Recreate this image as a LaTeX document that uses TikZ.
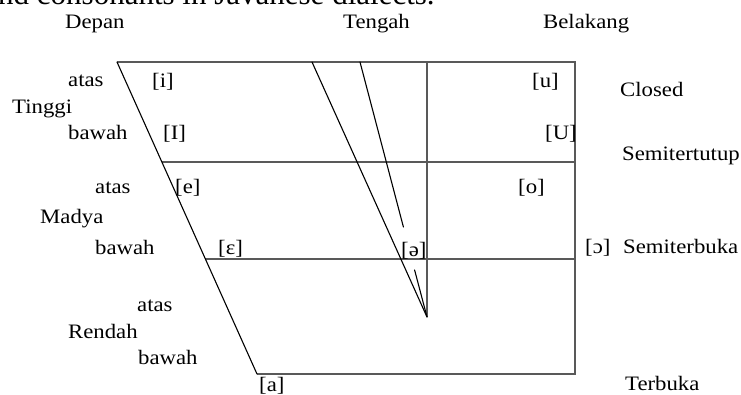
\documentclass[tikz,border=0pt]{standalone}
\usepackage{fontspec}
\usepackage{graphicx}
\setmainfont{Liberation Serif}
\newcommand{\wt}[1]{\scalebox{1.11}[1]{#1}}
\tikzset{
  lab/.style={inner sep=0pt, anchor=base west, font=\fontsize{20.5}{24}\selectfont},
  boxline/.style={draw=black!65, line width=1.6pt},
  slant/.style={draw=black, line width=1.1pt, line cap=round}
}
\begin{document}
\begin{tikzpicture}[x=1pt,y=-1pt]
\useasboundingbox (0,0) rectangle (741,394);
\clip (0,0) rectangle (741,394);
% caption fragment (cut off at the top, as in the reference)
\node[inner sep=0pt, anchor=base west, font=\fontsize{31}{36}\selectfont] (cap) at (-2,4) {nd consonants in Javanese dialects.};
% corner coordinates
\coordinate (TL) at (117,62);
\coordinate (TR) at (575,62);
\coordinate (L1) at (162,162);
\coordinate (R1) at (575,162);
\coordinate (L2) at (205.4,259);
\coordinate (R2) at (575,259);
\coordinate (BL) at (257,374);
\coordinate (BR) at (575,374);
\coordinate (MT) at (427,62);
\coordinate (apex) at (427,317);
\coordinate (DA) at (312,62);
\coordinate (DB) at (360,62);
\coordinate (DB1) at (403.4,227);
\coordinate (DB2) at (414.6,270);
% frame
\draw[boxline] (TL) -- (TR) -- (BR) -- (BL);
\draw[boxline] (L1) -- (R1);
\draw[boxline] (L2) -- (R2);
\draw[boxline] (MT) -- (apex);
\draw[slant] (TL) -- (BL);
\draw[slant] (DA) -- (apex);
\draw[slant] (DB) -- (DB1);
\draw[slant] (DB2) -- (apex);
% column headings
\node[lab] (depan) at (65,28) {\wt{Depan}};
\node[lab] (tengah) at (343,28) {\wt{Tengah}};
\node[lab] (belakang) at (543,28) {\wt{Belakang}};
% left labels
\node[lab] (atas1) at (68,86) {\wt{atas}};
\node[lab] (tinggi) at (12,113) {\wt{Tinggi}};
\node[lab] (bawah1) at (68,139) {\wt{bawah}};
\node[lab] (atas2) at (95,193) {\wt{atas}};
\node[lab] (madya) at (40,223) {\wt{Madya}};
\node[lab] (bawah2) at (95,254) {\wt{bawah}};
\node[lab] (atas3) at (137,311) {\wt{atas}};
\node[lab] (rendah) at (68,338) {\wt{Rendah}};
\node[lab] (bawah3) at (138,364) {\wt{bawah}};
% vowels
\node[lab] (vi) at (152,87) {\wt{[i]}};
\node[lab] (vI) at (163,139) {\wt{[I]}};
\node[lab] (ve) at (175,193) {\wt{[e]}};
\node[lab] (veps) at (218,254) {\wt{[ε]}};
\node[lab] (va) at (259,391) {\wt{[a]}};
\node[lab] (vschwa) at (401,256) {\wt{[ə]}};
\node[lab] (vo) at (518,193) {\wt{[o]}};
\node[lab] (vu) at (532,87) {\wt{[u]}};
\node[lab] (vU) at (545,139) {\wt{[U]}};
\node[lab] (vopen) at (585,253) {\wt{[ɔ]}};
% right labels
\node[lab] (closed) at (620,96) {\wt{Closed}};
\node[lab] (semitt) at (622,160) {\wt{Semitertutup}};
\node[lab] (semitb) at (623,253) {\wt{Semiterbuka}};
\node[lab] (terbuka) at (625,390) {\wt{Terbuka}};
\end{tikzpicture}
\end{document}
